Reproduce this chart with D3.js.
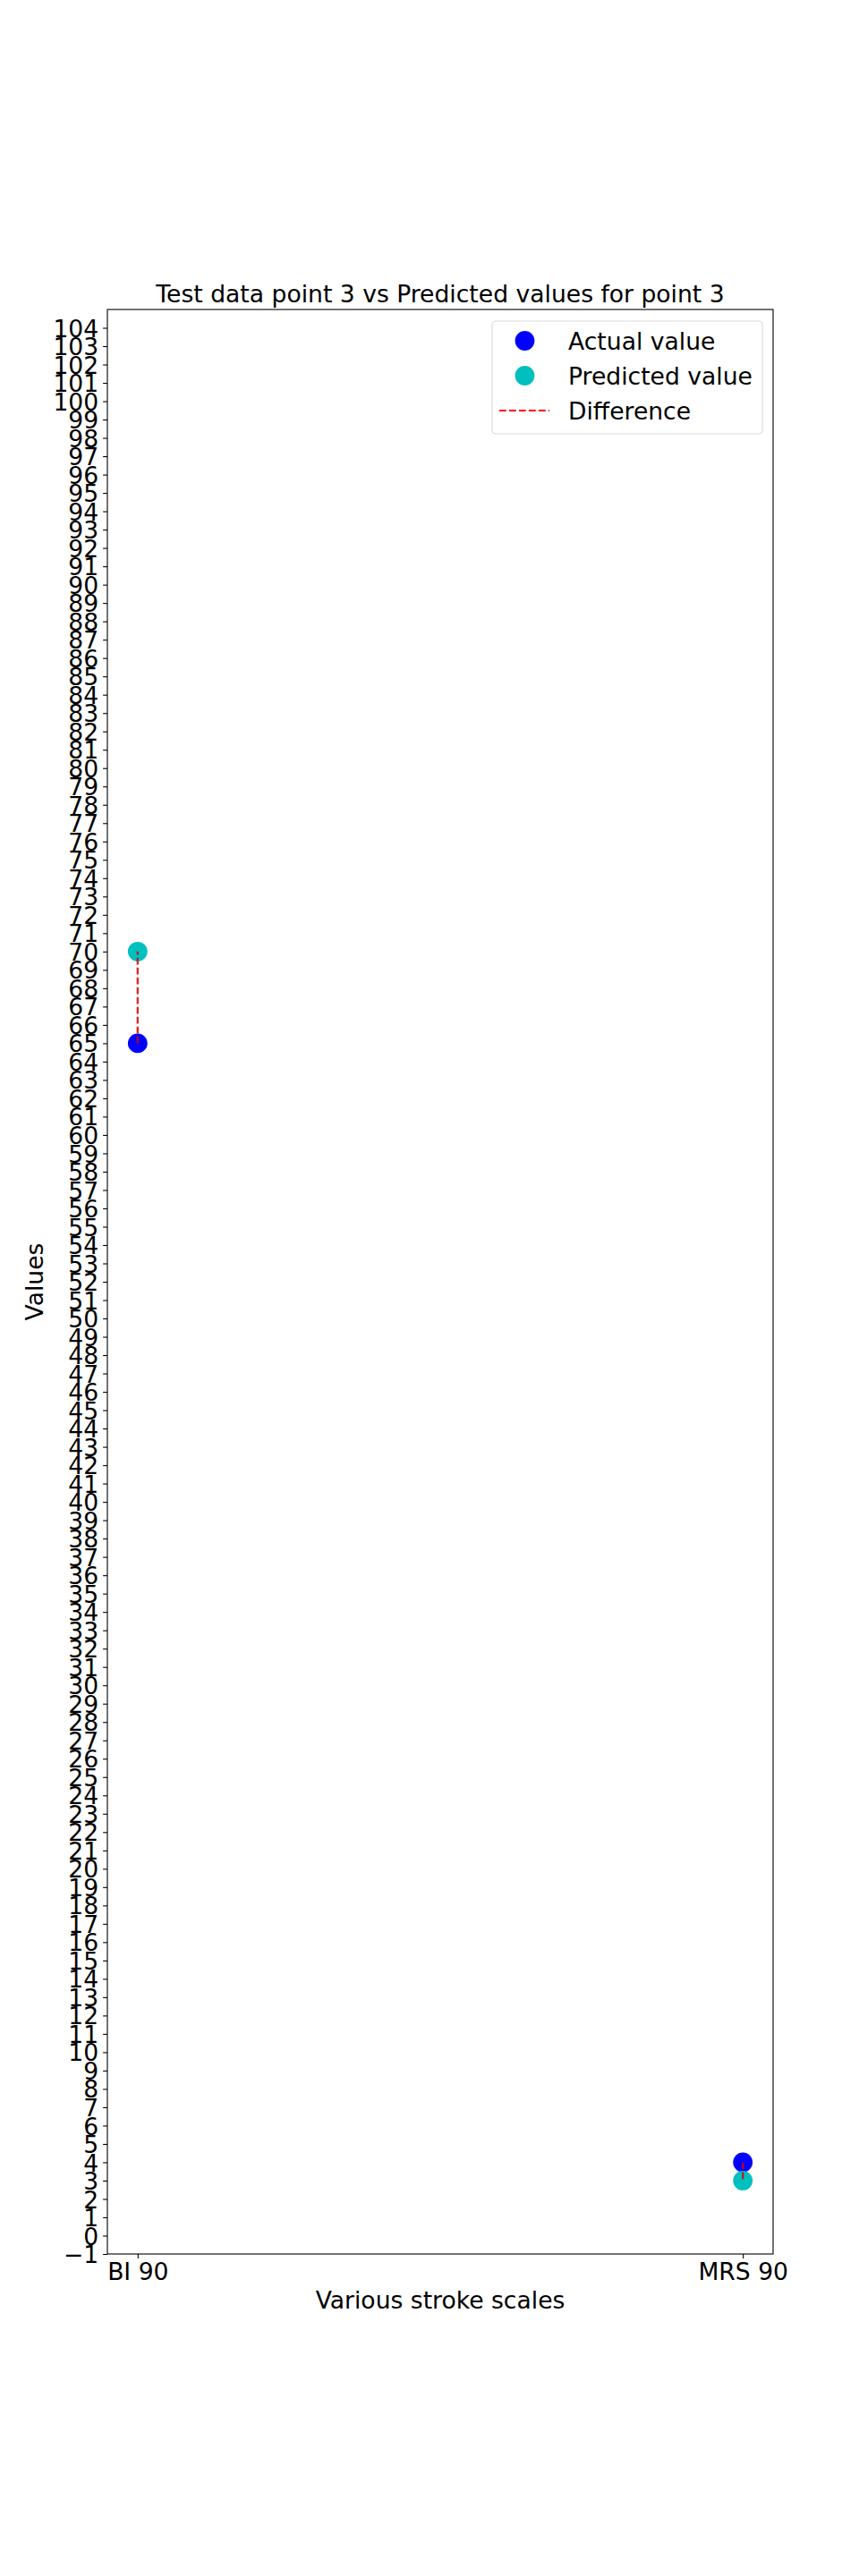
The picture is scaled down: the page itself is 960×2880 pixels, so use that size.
<!DOCTYPE html>
<html>
<head>
<meta charset="utf-8">
<script src="https://cdn.jsdelivr.net/npm/d3@7"></script>
<style>
  body { margin: 0; background: #fff; }
  svg { display: block; font-family: "DejaVu Sans", sans-serif; }
</style>
</head>
<body>
<div id="chart"></div>
<script>
// Test point 3: actual vs predicted on two stroke scales.
var categories = ["BI 90", "MRS 90"];
var actualValues = [65, 4];
var predictedValues = [70, 3];
var yTicks = d3.range(-1, 105);

var width = 960, height = 2880;
var margin = { left: 120, right: 96, top: 346, bottom: 360 };
var fontSize = 26.6;

var svg = d3.select("#chart").append("svg")
    .attr("width", width).attr("height", height);

var x = d3.scaleLinear().domain([-0.05, 1.05])
    .range([margin.left, width - margin.right]);
var y = d3.scaleLinear().domain([-1, 105])
    .range([height - margin.bottom, margin.top]);

// Axes
var yAxis = svg.append("g")
    .attr("transform", "translate(" + margin.left + ",0)")
    .call(d3.axisLeft(y).tickValues(yTicks).tickSize(4.9).tickPadding(4.9)
        .tickFormat(function (d) { return d < 0 ? "\u2212" + Math.abs(d) : d; }));
var xAxis = svg.append("g")
    .attr("transform", "translate(0," + (height - margin.bottom) + ")")
    .call(d3.axisBottom(x).tickValues([0, 1]).tickSize(4.9).tickPadding(4.9)
        .tickFormat(function (d) { return categories[d]; }));

[xAxis, yAxis].forEach(function (g) {
    g.select(".domain").remove();
    g.selectAll("line").attr("stroke", "#000").attr("stroke-width", 1.1);
    g.selectAll("text").attr("font-size", fontSize).attr("fill", "#000")
        .attr("font-family", "DejaVu Sans, sans-serif");
});
yAxis.selectAll("text").attr("dy", "0.36em");

// Frame
svg.append("rect")
    .attr("x", margin.left).attr("y", margin.top)
    .attr("width", width - margin.left - margin.right)
    .attr("height", height - margin.top - margin.bottom)
    .attr("fill", "none").attr("stroke", "#000").attr("stroke-width", 1.1);

// Points
var markerR = 10.9;
svg.selectAll(".actual").data(actualValues).enter().append("circle")
    .attr("class", "actual")
    .attr("cx", function (d, i) { return x(i); })
    .attr("cy", function (d) { return y(d); })
    .attr("r", markerR).attr("fill", "#0000ff");
svg.selectAll(".predicted").data(predictedValues).enter().append("circle")
    .attr("class", "predicted")
    .attr("cx", function (d, i) { return x(i); })
    .attr("cy", function (d) { return y(d); })
    .attr("r", markerR).attr("fill", "#00bfbf");

// Difference lines
svg.selectAll(".diff").data(categories).enter().append("line")
    .attr("class", "diff")
    .attr("x1", function (d, i) { return x(i); })
    .attr("x2", function (d, i) { return x(i); })
    .attr("y1", function (d, i) { return y(actualValues[i]); })
    .attr("y2", function (d, i) { return y(predictedValues[i]); })
    .attr("stroke", "#d40000").attr("stroke-opacity", 0.85)
    .attr("stroke-width", 2.3).attr("stroke-dasharray", "7.7,3.3");

// Title and labels
svg.append("text")
    .attr("x", (margin.left + width - margin.right) / 2).attr("y", 338)
    .attr("text-anchor", "middle").attr("font-size", fontSize)
    .text("Test data point 3 vs Predicted values for point 3");
svg.append("text")
    .attr("x", (margin.left + width - margin.right) / 2).attr("y", 2581)
    .attr("text-anchor", "middle").attr("font-size", fontSize)
    .text("Various stroke scales");
svg.append("text")
    .attr("transform", "translate(48," + (margin.top + height - margin.bottom) / 2 + ") rotate(-90)")
    .attr("text-anchor", "middle").attr("font-size", fontSize)
    .text("Values");

// Legend
var legend = svg.append("g");
legend.append("rect")
    .attr("x", 550).attr("y", 359).attr("width", 302).attr("height", 126)
    .attr("rx", 4).attr("fill", "#fff").attr("fill-opacity", 0.8)
    .attr("stroke", "#d9d9d9").attr("stroke-width", 1.1);
var legendItems = [
    { label: "Actual value", type: "dot", color: "#0000ff" },
    { label: "Predicted value", type: "dot", color: "#00bfbf" },
    { label: "Difference", type: "line", color: "#ff0000" }
];
var rowY = [381, 420, 459];
legendItems.forEach(function (item, i) {
    if (item.type === "dot") {
        legend.append("circle").attr("cx", 586.5).attr("cy", rowY[i])
            .attr("r", markerR).attr("fill", item.color);
    } else {
        legend.append("line").attr("x1", 558).attr("x2", 614)
            .attr("y1", rowY[i]).attr("y2", rowY[i])
            .attr("stroke", item.color).attr("stroke-width", 2.1)
            .attr("stroke-dasharray", "7.7,3.3");
    }
    legend.append("text").attr("x", 635).attr("y", rowY[i])
        .attr("dy", "0.36em").attr("font-size", fontSize)
        .text(item.label);
});
</script>
</body>
</html>
